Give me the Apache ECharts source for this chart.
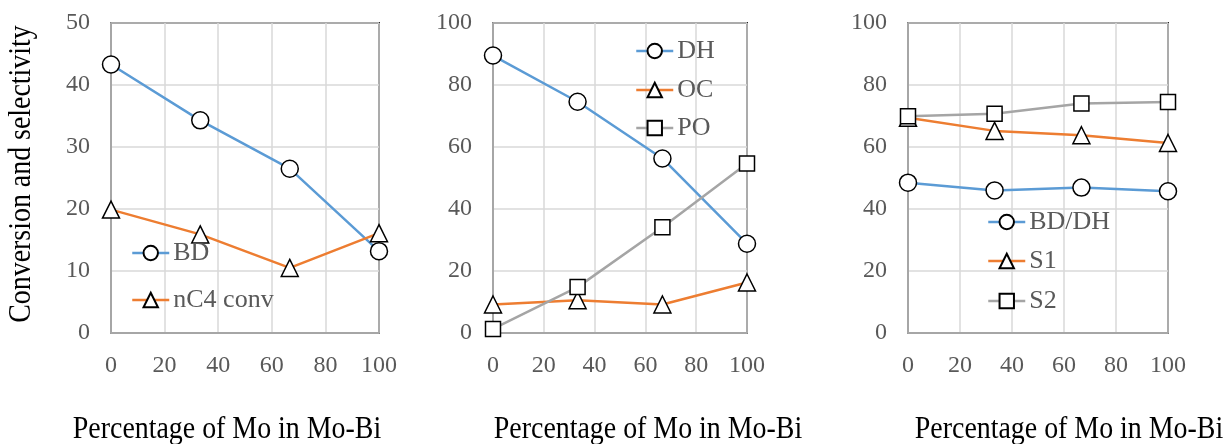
<!DOCTYPE html>
<html>
<head>
<meta charset="utf-8">
<script src="https://cdn.jsdelivr.net/npm/echarts@6/dist/echarts.min.js"></script>
<style>
  html, body { margin: 0; padding: 0; background: #fff; }
  #chart { width: 1232px; height: 444px; }
</style>
</head>
<body>
<div id="chart"></div>
<script>
// percentage of Mo in Mo-Bi
const moPct = [0, 33.3, 66.7, 100];

// panel 1
const bd = [43.3, 34.3, 26.5, 13.2];
const nc4Conv = [19.9, 15.9, 10.5, 16.1];

// panel 2
const dh = [89.5, 74.6, 56.3, 28.8];
const oc = [9.2, 10.6, 9.2, 16.3];
const po = [1.3, 14.8, 34.1, 54.7];

// panel 3
const bdDh = [48.5, 46.0, 46.9, 45.7];
const s1 = [69.4, 65.2, 63.8, 61.3];
const s2 = [69.9, 70.7, 74.0, 74.5];

const xTicks = [0, 20, 40, 60, 80, 100];

const FONT = "'Liberation Serif', 'Times New Roman', serif";
const BLUE = '#5B9BD5', ORANGE = '#ED7D31', GRAY = '#A5A5A5';
const LABEL = '#595959';

const grids = [
  { left: 111, top: 23, width: 268, height: 310 },
  { left: 493, top: 23, width: 254, height: 310 },
  { left: 908, top: 23, width: 260, height: 310 }
];

function pairs(ys) {
  return moPct.map((x, i) => [x, ys[i]]);
}

function xAxis(i) {
  return {
    type: 'value', gridIndex: i, min: xTicks[0], max: xTicks[xTicks.length - 1], interval: 20,
    axisLine: { show: true, lineStyle: { color: '#A6A6A6', width: 2 } },
    axisTick: { show: false },
    axisLabel: { color: LABEL, fontFamily: FONT, fontSize: 24, margin: 21 },
    splitLine: { show: true, lineStyle: { color: '#D9D9D9', width: 1.5 } }
  };
}

function yAxis(i, max, step) {
  return {
    type: 'value', gridIndex: i, min: 0, max: max, interval: step,
    axisLine: { show: true, lineStyle: { color: '#A6A6A6', width: 2 } },
    axisTick: { show: false },
    axisLabel: { color: LABEL, fontFamily: FONT, fontSize: 24, margin: 21 },
    splitLine: { show: true, lineStyle: { color: '#D9D9D9', width: 1.5 } }
  };
}

function line(name, ys, i, color, symbol, size) {
  return {
    name: name, type: 'line', xAxisIndex: i, yAxisIndex: i,
    data: pairs(ys),
    symbol: symbol, symbolSize: size,
    lineStyle: { color: color, width: 2.5 },
    itemStyle: { color: '#fff', borderColor: '#000', borderWidth: 1.5 },
    emphasis: { disabled: true },
    animation: false
  };
}

function legend(name, left, top) {
  return {
    data: [name], left: left, top: top, orient: 'vertical', padding: 0,
    itemWidth: 37, itemHeight: 18,
    lineStyle: { width: 2.5 },
    textStyle: { color: LABEL, fontFamily: FONT, fontSize: 26, padding: [0, 0, 0, -1] },
    selectedMode: false
  };
}

// axis titles: the source font is a bit condensed, so squeeze it horizontally
function xTitle(cx) {
  return {
    type: 'text', x: cx, y: 430, scaleX: 0.9,
    style: {
      text: 'Percentage of Mo in Mo-Bi', fill: '#000', font: '31px ' + FONT,
      align: 'center', verticalAlign: 'middle'
    }
  };
}

const option = {
  animation: false,
  grid: grids.map(g => Object.assign({ show: true, borderColor: '#262626', borderWidth: 2, backgroundColor: '#fff' }, g)),
  xAxis: [xAxis(0), xAxis(1), xAxis(2)],
  yAxis: [yAxis(0, 50, 10), yAxis(1, 100, 20), yAxis(2, 100, 20)],
  legend: [
    legend('BD', 131, 240),
    legend('nC4 conv', 131, 287),
    legend('DH', 635, 38),
    legend('OC', 635, 77),
    legend('PO', 635, 115),
    legend('BD/DH', 987, 209),
    legend('S1', 987, 248),
    legend('S2', 987, 288)
  ],
  series: [
    line('BD', bd, 0, BLUE, 'circle', 17),
    line('nC4 conv', nc4Conv, 0, ORANGE, 'triangle', 17),
    line('DH', dh, 1, BLUE, 'circle', 17),
    line('OC', oc, 1, ORANGE, 'triangle', 17),
    line('PO', po, 1, GRAY, 'rect', 15),
    line('BD/DH', bdDh, 2, BLUE, 'circle', 17),
    line('S1', s1, 2, ORANGE, 'triangle', 17),
    line('S2', s2, 2, GRAY, 'rect', 15)
  ],
  graphic: [
    xTitle(227), xTitle(648), xTitle(1069),
    {
      type: 'text', x: 22, y: 174, rotation: Math.PI / 2, scaleX: 0.9,
      style: {
        text: 'Conversion and selectivity', fill: '#000', font: '31px ' + FONT,
        align: 'center', verticalAlign: 'middle'
      }
    }
  ]
};

const chart = echarts.init(document.getElementById('chart'));
chart.setOption(option);
</script>
</body>
</html>
